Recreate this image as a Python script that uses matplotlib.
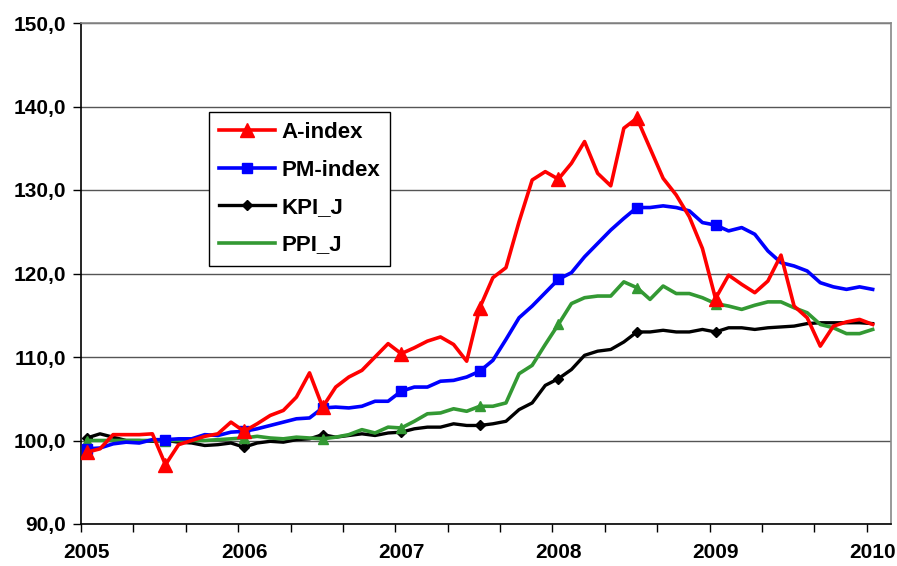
import matplotlib
matplotlib.use("Agg")
import matplotlib.pyplot as plt
from matplotlib.lines import Line2D
from matplotlib.ticker import FuncFormatter, FixedLocator

plt.rcParams['font.family'] = ['Liberation Sans', 'DejaVu Sans']

# monthly data, Jan 2005 .. Jan 2010 (61 months)
a_index = [98.6, 99.0, 100.7, 100.7, 100.7, 100.8, 97.1, 99.5, 100.0, 100.5, 100.8, 102.2,
           101.1, 102.0, 103.0, 103.6, 105.2, 108.1, 104.0, 106.4, 107.6, 108.4, 110.0, 111.6,
           110.4, 111.1, 111.9, 112.4, 111.5, 109.5, 115.9, 119.5, 120.7, 126.2, 131.2, 132.2,
           131.3, 133.2, 135.8, 132.0, 130.5, 137.4, 138.6, 135.0, 131.4, 129.4, 126.8, 123.0,
           117.0, 119.8, 118.7, 117.7, 119.1, 122.2, 116.1, 114.7, 111.3, 113.7, 114.2, 114.5, 113.9]
pm_index = [99.0, 99.1, 99.6, 99.8, 99.7, 100.1, 100.1, 100.2, 100.2, 100.7, 100.6, 101.0,
            101.1, 101.4, 101.8, 102.2, 102.6, 102.7, 103.9, 104.0, 103.9, 104.1, 104.7, 104.7,
            105.9, 106.4, 106.4, 107.1, 107.2, 107.6, 108.3, 109.6, 112.1, 114.7, 116.1, 117.7,
            119.3, 120.1, 122.0, 123.6, 125.2, 126.6, 127.9, 127.9, 128.1, 127.9, 127.5, 126.1,
            125.8, 125.1, 125.5, 124.7, 122.7, 121.3, 120.9, 120.3, 118.9, 118.4, 118.1, 118.4, 118.1]
kpi_j = [100.3, 100.8, 100.4, 100.0, 100.0, 99.9, 100.0, 99.8, 99.7, 99.4, 99.5, 99.7,
         99.2, 99.7, 99.9, 99.8, 100.1, 100.2, 100.7, 100.4, 100.6, 100.8, 100.6, 100.9,
         101.0, 101.4, 101.6, 101.6, 102.0, 101.8, 101.8, 102.0, 102.3, 103.7, 104.5, 106.6,
         107.4, 108.5, 110.2, 110.7, 110.9, 111.8, 113.0, 113.0, 113.2, 113.0, 113.0, 113.3,
         113.0, 113.5, 113.5, 113.3, 113.5, 113.6, 113.7, 114.0, 114.1, 114.1, 114.1, 114.1, 114.0]
ppi_j = [100.0, 100.0, 100.0, 100.0, 100.0, 100.0, 100.0, 100.0, 100.0, 100.0, 100.1, 100.2,
         100.3, 100.5, 100.3, 100.2, 100.4, 100.3, 100.2, 100.4, 100.7, 101.3, 100.9, 101.6,
         101.5, 102.3, 103.2, 103.3, 103.8, 103.5, 104.1, 104.1, 104.5, 108.0, 109.0, 111.5,
         113.9, 116.4, 117.1, 117.3, 117.3, 119.0, 118.3, 116.9, 118.5, 117.6, 117.6, 117.1,
         116.4, 116.1, 115.7, 116.2, 116.6, 116.6, 115.9, 115.3, 113.9, 113.5, 112.8, 112.8, 113.3]
year_labels = ['2005', '2006', '2007', '2008', '2009', '2010']
series_names = ['A-index', 'PM-index', 'KPI_J', 'PPI_J']

months = list(range(len(a_index)))
mark = list(range(0, 49, 6))

fig = plt.figure(figsize=(8.97, 5.66), dpi=100)
ax = fig.add_axes([81/897, 1 - 524/566, 810/897, 501/566])

ax.plot(months, a_index, color='#ff0000', lw=2.6, marker='^', ms=10, markevery=mark, zorder=5)
ax.plot(months, pm_index, color='#0000ff', lw=2.6, marker='s', ms=7, markevery=mark, zorder=4)
ax.plot(months, kpi_j, color='#000000', lw=2.4, marker='D', ms=5, markevery=mark, zorder=3)
ax.plot(months, ppi_j, color='#339933', lw=2.6, marker='^', ms=7, markevery=mark, zorder=3)

ax.set_ylim(90, 150)
ax.set_xlim(-0.45, 61.4)
ax.set_yticks(range(90, 151, 10))
ax.yaxis.set_major_formatter(FuncFormatter(lambda v, p: f"{v:.1f}".replace('.', ',')))
ax.grid(axis='y', color='#555555', lw=1.0)
ax.set_axisbelow(True)

ax.set_xticks(list(range(0, 61, 12)))
ax.set_xticklabels(year_labels)
ax.xaxis.set_minor_locator(FixedLocator([-0.45 + 4 * k for k in range(16)]))
ax.tick_params(axis='x', which='major', length=0, pad=14, labelsize=15)
ax.tick_params(axis='x', which='minor', length=6, width=1, direction='out')
ax.tick_params(axis='y', length=6, width=1, direction='out', pad=5, labelsize=15)
for lab in ax.get_xticklabels() + ax.get_yticklabels():
    lab.set_fontweight('bold')

for s in ['top', 'right']:
    ax.spines[s].set_color('#888888')
    ax.spines[s].set_linewidth(1.2)
for s in ['left', 'bottom']:
    ax.spines[s].set_color('#000000')
    ax.spines[s].set_linewidth(1.2)

handles = [
    Line2D([], [], color='#ff0000', lw=2.6, marker='^', ms=10),
    Line2D([], [], color='#0000ff', lw=2.6, marker='s', ms=7),
    Line2D([], [], color='#000000', lw=2.4, marker='D', ms=5),
    Line2D([], [], color='#339933', lw=2.6),
]
leg = ax.legend(handles, series_names, loc='upper left', bbox_to_anchor=(0.158, 0.822),
                frameon=True, fancybox=False, edgecolor='#000000', framealpha=1,
                prop={'weight': 'bold', 'size': 16}, handlelength=2.5,
                labelspacing=0.74, borderpad=0.45, handletextpad=0.3, borderaxespad=0)
leg.get_frame().set_linewidth(1.0)
leg.set_zorder(10)

fig.savefig('out.png', dpi=100)
